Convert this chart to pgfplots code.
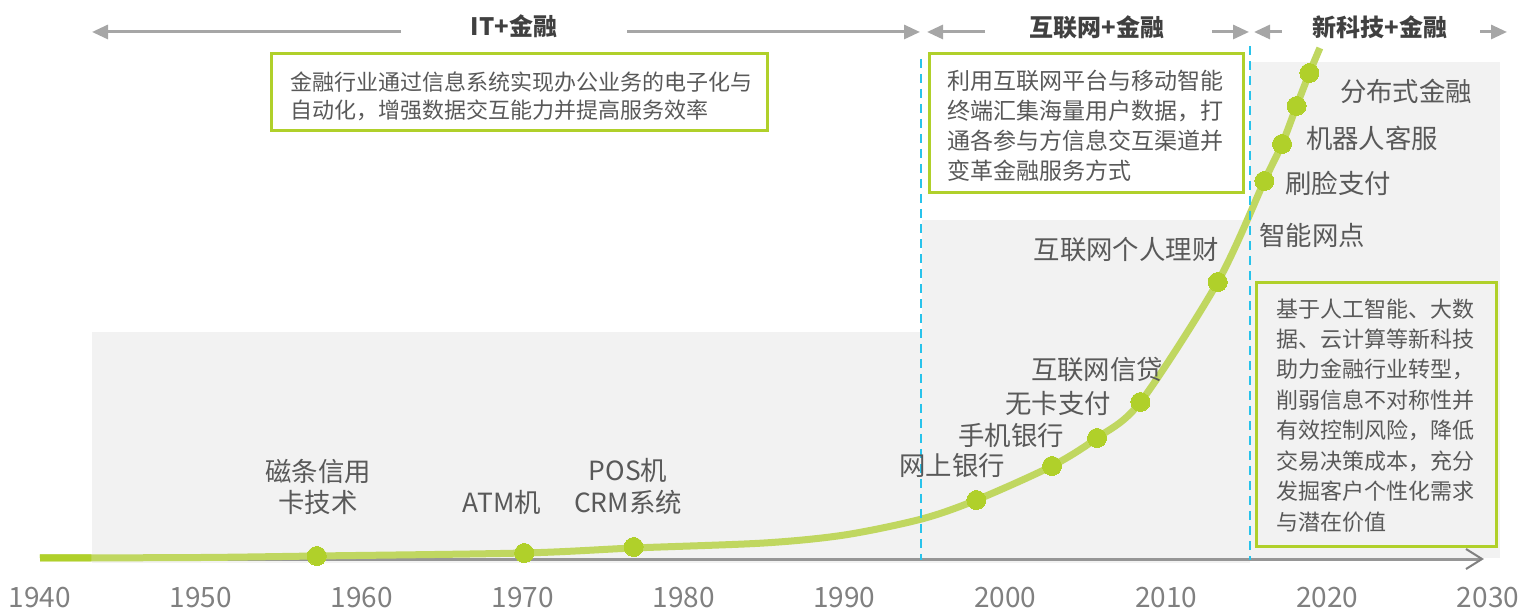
\documentclass[border=0pt]{standalone}
\usepackage{fontspec}
\setmainfont{Noto Sans CJK SC}
\usepackage{pgfplots}
\pgfplotsset{compat=1.18}
\usetikzlibrary{arrows.meta}
\definecolor{lineG}{RGB}{192,215,96}
\definecolor{dotG}{RGB}{176,208,42}
\definecolor{bgG}{RGB}{242,242,242}
\definecolor{boxG}{RGB}{176,208,42}
\definecolor{dashB}{RGB}{40,195,235}
\definecolor{txt}{RGB}{89,89,89}
\definecolor{hdr}{RGB}{64,64,64}
\definecolor{arr}{RGB}{166,166,166}
\definecolor{axc}{RGB}{150,150,150}
\definecolor{tickc}{RGB}{128,128,128}
\begin{document}
\begin{tikzpicture}
\useasboundingbox (0,0) rectangle (759pt,304.5pt);
% background (pixel coordinates, y down)
\begin{scope}[x=0.5pt,y=-0.5pt,shift={(0pt,304.5pt)}]
  \fill[bgG] (92,332) rectangle (922,563);
  \fill[bgG] (922,220) rectangle (1250,563);
  \fill[bgG] (1250,62) rectangle (1500,558);
  \draw[axc, line width=1.2pt] (40,559.5) -- (1481,559.5);
  \draw[tickc, line width=1pt] (1466,549) -- (1482,559) -- (1466,569);
\end{scope}
\begin{axis}[at={(20pt,25.5pt)}, anchor=south west, scale only axis,
  width=724pt, height=279pt, xmin=1940, xmax=2030, ymin=0, ymax=558,
  clip=false, axis line style={draw=none}, tick style={draw=none},
  ytick=\empty, xtick={1940,1950,...,2030},
  xticklabel style={anchor=center, yshift=-20pt, font=\fontsize{14pt}{16pt}\selectfont, text=tickc},
  /pgf/number format/1000 sep={}, /pgf/number format/assume math mode=true]
  \addplot[smooth, line width=3.5pt, color=lineG] coordinates {
    (1940,0) (1950,0.5) (1957.2,2) (1970.1,5) (1976.9,10) (1985,15) (1990,23)
    (1994.8,39) (1998.2,58) (2002.9,92) (2005.7,120) (2008.4,156) (2013.2,276)
    (2016.1,377) (2017.2,414) (2018.1,452) (2018.9,485) (2019.55,510)};
  \addplot[line width=3.5pt, color=dotG] coordinates {(1940,0) (1943.2,0.2)};
  \addplot[only marks, color=dotG, mark=*, mark size=4.75pt, mark options={fill=dotG, draw=dotG, line width=0pt}] coordinates {
    (1957.2,2) (1970.1,5) (1976.9,11) (1998.2,58) (2002.9,92) (2005.7,120)
    (2008.4,156) (2013.2,276) (2016.1,377) (2017.2,414) (2018.1,452) (2018.9,485)};
\end{axis}
\begin{scope}[x=0.5pt,y=-0.5pt,shift={(0pt,304.5pt)}]
  \draw[dashB, line width=1.4pt, dash pattern=on 4.5pt off 3pt] (921,59) -- (921,560);
  \draw[dashB, line width=1.4pt, dash pattern=on 4.5pt off 3pt] (1250,46) -- (1250,560);
  % header
  \draw[arr, line width=1.5pt, -{Triangle[length=8pt,width=7pt]}] (401,32) -- (92,32);
  \draw[arr, line width=1.5pt, -{Triangle[length=8pt,width=7pt]}] (627,32) -- (920,32);
  \draw[arr, line width=1.5pt, -{Triangle[length=8pt,width=7pt]}] (985,32) -- (927,32);
  \draw[arr, line width=1.5pt, -{Triangle[length=8pt,width=7pt]}] (1212,32) -- (1249,32);
  \draw[arr, line width=1.5pt, -{Triangle[length=8pt,width=7pt]}] (1282,32) -- (1254,32);
  \draw[arr, line width=1.5pt, -{Triangle[length=8pt,width=7pt]}] (1480,32) -- (1507,32);
  \begin{scope}[every node/.style={font=\bfseries\fontsize{12pt}{14pt}\selectfont, text=hdr}]
    \node at (514,26) {IT+金融};
    \node at (1097,27) {互联网+金融};
    \node at (1380,27) {新科技+金融};
  \end{scope}
  % boxes
  \draw[boxG, line width=1.5pt, fill=white] (271,54) rectangle (767,131);
  \draw[boxG, line width=1.5pt, fill=white] (929,54) rectangle (1243,193);
  \draw[boxG, line width=1.5pt, fill=bgG] (1256,283) rectangle (1496,547);
  \begin{scope}[every node/.style={font=\fontsize{11pt}{13pt}\selectfont, text=txt, anchor=west, inner sep=0pt}]
    \node at (290,82) {金融行业通过信息系统实现办公业务的电子化与};
    \node at (290,110) {自动化，增强数据交互能力并提高服务效率};
    \node at (1276,309) {基于人工智能、大数};
    \node at (1276,339.4) {据、云计算等新科技};
    \node at (1276,369.8) {助力金融行业转型，};
    \node at (1276,400.2) {削弱信息不对称性并};
    \node at (1276,430.6) {有效控制风险，降低};
    \node at (1276,461) {交易决策成本，充分};
    \node at (1276,491.4) {发掘客户个性化需求};
    \node at (1276,521.8) {与潜在价值};
  \end{scope}
  \begin{scope}[every node/.style={font=\fontsize{11.5pt}{13pt}\selectfont, text=txt, anchor=west, inner sep=0pt}]
    \node at (947,81) {利用互联网平台与移动智能};
    \node at (947,111) {终端汇集海量用户数据，打};
    \node at (947,141) {通各参与方信息交互渠道并};
    \node at (947,171) {变革金融服务方式};
  \end{scope}
  % labels
  \begin{scope}[every node/.style={font=\fontsize{13.2pt}{15pt}\selectfont, text=txt, inner sep=0pt}]
    \node at (318,472) {磁条信用};
    \node at (318,502) {卡技术};
    \node at (502,502) {ATM机};
    \node at (628,470) {POS机};
    \node at (628,502) {CRM系统};
    \node at (952,465) {网上银行};
    \node at (1011,435) {手机银行};
    \node at (1058,403) {无卡支付};
    \node at (1097,370) {互联网信贷};
    \node at (1126,250) {互联网个人理财};
    \node at (1312,235) {智能网点};
    \node at (1338,183) {刷脸支付};
    \node at (1372,138) {机器人客服};
    \node at (1406,91) {分布式金融};
  \end{scope}
\end{scope}
\end{tikzpicture}
\end{document}
